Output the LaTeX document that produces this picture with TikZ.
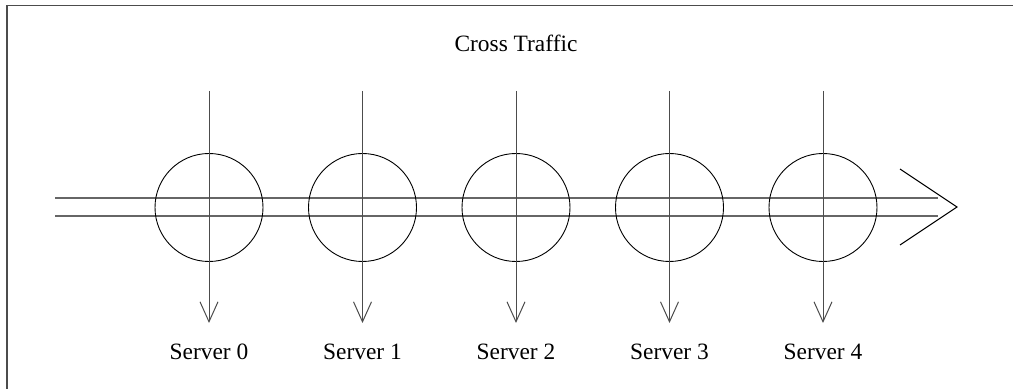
\documentclass[tikz,border=0pt]{standalone}
\usepackage{fontspec}
\setmainfont{Liberation Serif}
\usetikzlibrary{arrows.meta}
\begin{document}
\begin{tikzpicture}[x=0.5pt,y=-0.5pt,
  frame/.style={draw=black!70,line width=0.75pt},
  flow/.style={draw=black!60,line width=0.65pt},
  server/.style={circle,draw=black,line width=0.45pt,minimum size=54pt,inner sep=0pt},
  cross/.style={draw=black!70,line width=0.5pt,-{Straight Barb[length=10pt,width=9pt,line width=0.5pt]}},
  lbl/.style={font=\fontsize{11.7}{14}\selectfont,inner sep=0pt}]
\useasboundingbox (0,0) rectangle (1013,389);
% frame (only top and left edges visible)
\coordinate (fa) at (7,389);
\coordinate (fb) at (7,5.5);
\coordinate (fc) at (1013,5.5);
\draw[frame] (fa) -- (fb) -- (fc);
\node[lbl] (title) at (516,43) {Cross Traffic};
% main flow lines
\coordinate (l1s) at (55,198);
\coordinate (l1e) at (938,198);
\coordinate (l2s) at (55,216);
\coordinate (l2e) at (938,216);
\draw[flow] (l1s) -- (l1e);
\draw[flow] (l2s) -- (l2e);
% big arrowhead
\coordinate (ha) at (900,169);
\coordinate (ht) at (957,207);
\coordinate (hb) at (900,245);
\draw[black,line width=0.5pt] (ha) -- (ht) -- (hb);
% servers
\foreach \i/\x in {0/209,1/362.5,2/516,3/669.5,4/823}{
  \node[server] (s\i) at (\x,207.5) {};
  \coordinate (t\i) at (\x,91);
  \coordinate (b\i) at (\x,323);
  \draw[cross] (t\i) -- (b\i);
  \node[lbl] (n\i) at (\x,352) {Server \i};
}
\end{tikzpicture}
\end{document}
